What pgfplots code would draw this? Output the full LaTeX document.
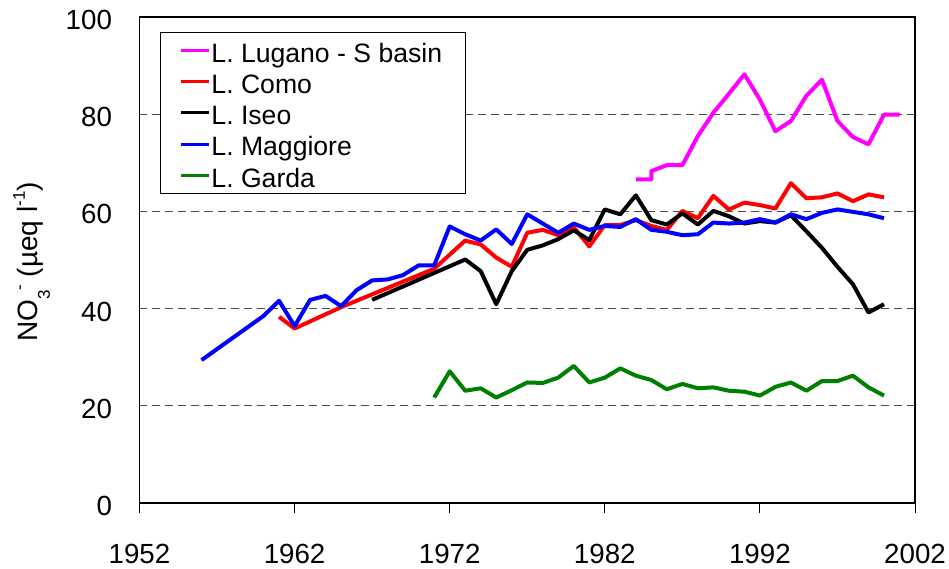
\documentclass[border=0pt]{standalone}
\usepackage{fontspec}
\setmainfont{Liberation Sans}
\usepackage{pgfplots}
\pgfplotsset{compat=1.18}
\definecolor{cMag}{RGB}{255,0,255}
\definecolor{cRed}{RGB}{255,0,0}
\definecolor{cBlue}{RGB}{0,0,255}
\definecolor{cGreen}{RGB}{0,128,0}
\newcommand{\sml}[1]{{\fontsize{17}{17}\selectfont #1}}
\begin{document}
\begin{tikzpicture}
\useasboundingbox (-139.5pt,-66pt) rectangle (809.5pt,503pt);
\begin{axis}[
  scale only axis, width=775.5pt, height=486pt,
  xmin=1952, xmax=2002, ymin=0, ymax=100,
  xtick={1952,1962,1972,1982,1992,2002},
  ytick={0,20,40,60,80,100},
  /pgf/number format/assume math mode=true,
  xticklabel style={/pgf/number format/1000 sep={}, yshift=-28pt},
  yticklabel style={xshift=-24pt, yshift=-3pt},
  tick label style={font=\fontsize{27.7}{33}\selectfont},
  xtick align=outside, ytick align=inside,
  major tick length=10pt,
  xtick pos=bottom, ytick pos=left,
  x tick style={black, line width=1pt},
  y tick style={draw=none},
  axis line style={black, line width=1.3pt},
  ymajorgrids,
  major grid style={black!70, line width=0.9pt, dash pattern=on 8pt off 5pt},
  every axis y label/.style={at={(axis description cs:0,0.5)}, xshift=-108pt, yshift=-2pt, rotate=90, anchor=center, inner sep=0pt},
  ylabel={\fontsize{28}{33}\selectfont NO\raisebox{-12pt}{\sml{3}}\raisebox{13pt}{\sml{-}} (µeq l\raisebox{13pt}{\sml{-1}})},
  legend cell align=left,
  legend image code/.code={\draw[#1,line width=3pt] (0pt,0pt) -- (28pt,0pt); \pgfresetboundingbox \path[draw=none,fill=none,use as bounding box] (0pt,5pt) rectangle (28pt,5pt);},
  legend style={at={(0.0264,0.970)}, anchor=north west, draw=black, line width=1pt, fill=white,
    font=\fontsize{26.6}{31}\selectfont, inner xsep=21pt, inner ysep=3pt,
    nodes={inner sep=2pt, text height=25pt, text depth=1.5pt},
    row sep=0.75pt},
  every axis plot/.append style={line width=4pt, line join=round},
]
\addplot[cMag] coordinates {(1984,66.6) (1985,66.6) (1985,68.3) (1986,69.5) (1987,69.5) (1988,75.5) (1989,80.3) (1990,84.2) (1991,88.2) (1992,83.0) (1993,76.5) (1994,78.6) (1995,83.8) (1996,87.1) (1997,78.6) (1998,75.3) (1999,73.8) (2000,79.9) (2001,79.9)};
\addlegendentry{L. Lugano - S basin}
\addplot[cRed] coordinates {(1961,38.3) (1962,35.9) (1965,40.3) (1971,48.2) (1973,54.0) (1974,53.2) (1975,50.5) (1976,48.6) (1977,55.6) (1978,56.2) (1979,55.1) (1980,56.7) (1981,52.8) (1982,57.2) (1983,57.2) (1984,58.2) (1985,57.0) (1986,56.2) (1987,60.1) (1988,58.6) (1989,63.2) (1990,60.4) (1991,61.8) (1992,61.3) (1993,60.6) (1994,65.8) (1995,62.7) (1996,62.9) (1997,63.7) (1998,62.1) (1999,63.5) (2000,62.9)};
\addlegendentry{L. Como}
\addplot[black] coordinates {(1967,41.8) (1973,50.1) (1974,47.7) (1975,40.9) (1976,47.7) (1977,52.1) (1978,53.0) (1979,54.3) (1980,56.1) (1981,54.1) (1982,60.4) (1983,59.4) (1984,63.3) (1985,58.2) (1986,57.3) (1987,59.6) (1988,57.3) (1989,60.1) (1990,59.0) (1991,57.5) (1992,58.0) (1993,57.7) (1994,59.2) (1995,55.9) (1996,52.5) (1997,48.6) (1998,45.0) (1999,39.2) (2000,40.9)};
\addlegendentry{L. Iseo}
\addplot[cBlue] coordinates {(1956,29.4) (1960,38.5) (1961,41.6) (1962,36.4) (1963,41.8) (1964,42.6) (1965,40.5) (1966,43.8) (1967,45.8) (1968,46.0) (1969,46.9) (1970,48.9) (1971,48.9) (1972,56.9) (1973,55.3) (1974,54.0) (1975,56.3) (1976,53.3) (1977,59.4) (1978,57.5) (1979,55.6) (1980,57.5) (1981,56.2) (1982,57.0) (1983,56.8) (1984,58.4) (1985,56.2) (1986,55.8) (1987,55.1) (1988,55.3) (1989,57.7) (1990,57.5) (1991,57.7) (1992,58.4) (1993,57.7) (1994,59.4) (1995,58.4) (1996,59.7) (1997,60.4) (1998,59.9) (1999,59.4) (2000,58.6)};
\addlegendentry{L. Maggiore}
\addplot[cGreen] coordinates {(1971,21.7) (1972,27.1) (1973,23.1) (1974,23.6) (1975,21.7) (1976,23.2) (1977,24.8) (1978,24.7) (1979,25.8) (1980,28.2) (1981,24.8) (1982,25.8) (1983,27.7) (1984,26.2) (1985,25.3) (1986,23.4) (1987,24.5) (1988,23.6) (1989,23.8) (1990,23.1) (1991,22.9) (1992,22.1) (1993,23.9) (1994,24.8) (1995,23.1) (1996,25.1) (1997,25.1) (1998,26.2) (1999,23.8) (2000,22.1)};
\addlegendentry{L. Garda}
\end{axis}
\end{tikzpicture}
\end{document}
